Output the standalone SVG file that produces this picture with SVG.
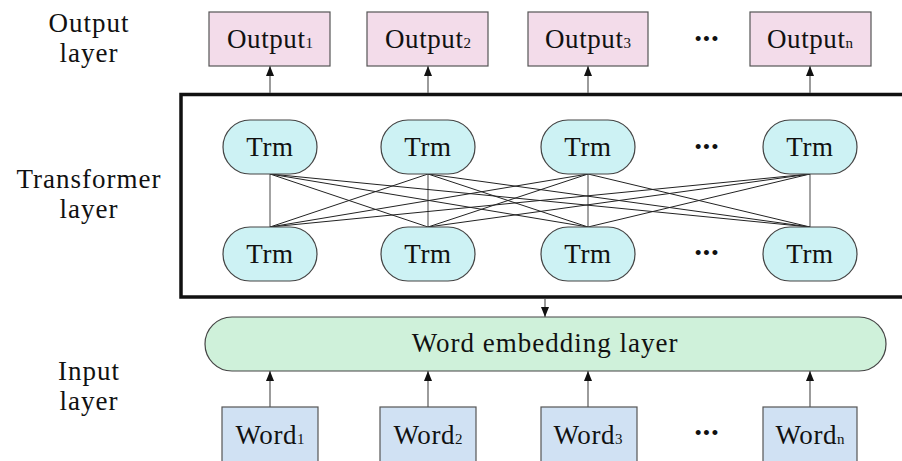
<svg xmlns="http://www.w3.org/2000/svg" width="902" height="461" viewBox="0 0 902 461" font-family="'Liberation Serif', 'Times New Roman', 'DejaVu Serif', serif">
<style>
text{font-family:'Liberation Serif','Times New Roman','DejaVu Serif',serif;fill:#111;text-anchor:middle}
.lbl{font-size:27px;letter-spacing:1px}
.t{font-size:27px;letter-spacing:0.6px}
.sub{font-size:15px;letter-spacing:0}
.dots{font-size:21px;letter-spacing:1px}
.out{fill:#f3dcea;stroke:#555;stroke-width:1.2}
.trm{fill:#cdf2f4;stroke:#444;stroke-width:1.2}
.emb{fill:#cff1da;stroke:#444;stroke-width:1.2}
.word{fill:#d0e1f3;stroke:#555;stroke-width:1.2}
.arr{stroke:#666;stroke-width:1.3;fill:none;marker-end:url(#ah)}
.v{stroke:#666;stroke-width:1.2}
.x{stroke:#222;stroke-width:1}
</style>
<defs>
<marker id="ah" markerWidth="10" markerHeight="8" refX="10" refY="4" orient="auto" markerUnits="userSpaceOnUse" viewBox="0 0 10 8">
<path d="M0,0 L10,4 L0,8 Z" fill="#111"/>
</marker>
</defs>
<rect width="902" height="461" fill="#fff"/>

<g id="labels">
<text class="lbl" x="89" y="32">Output</text>
<text class="lbl" x="89" y="62">layer</text>
<text class="lbl" x="89" y="188">Transformer</text>
<text class="lbl" x="89" y="218">layer</text>
<text class="lbl" x="89" y="380">Input</text>
<text class="lbl" x="89" y="410">layer</text>
</g>

<g id="transformer-box">
<rect x="181" y="94.5" width="730" height="202.5" fill="none" stroke="#111" stroke-width="3.5"/>
</g>

<g id="connectors">
<line class="arr" x1="270" y1="93" x2="270" y2="66"/>
<line class="arr" x1="428" y1="93" x2="428" y2="66"/>
<line class="arr" x1="588" y1="93" x2="588" y2="66"/>
<line class="arr" x1="810" y1="93" x2="810" y2="66"/>
<line class="arr" x1="545" y1="299" x2="545" y2="317"/>
<line class="arr" x1="270" y1="407" x2="270" y2="371"/>
<line class="arr" x1="428" y1="407" x2="428" y2="371"/>
<line class="arr" x1="588" y1="407" x2="588" y2="371"/>
<line class="arr" x1="810" y1="407" x2="810" y2="371"/>
<line class="v" x1="270" y1="174" x2="270" y2="227"/>
<line class="v" x1="428" y1="174" x2="428" y2="227"/>
<line class="v" x1="588" y1="174" x2="588" y2="227"/>
<line class="v" x1="810" y1="174" x2="810" y2="227"/>
<line class="x" x1="270" y1="174" x2="428" y2="227"/>
<line class="x" x1="270" y1="174" x2="588" y2="227"/>
<line class="x" x1="270" y1="174" x2="810" y2="227"/>
<line class="x" x1="428" y1="174" x2="270" y2="227"/>
<line class="x" x1="428" y1="174" x2="588" y2="227"/>
<line class="x" x1="428" y1="174" x2="810" y2="227"/>
<line class="x" x1="588" y1="174" x2="270" y2="227"/>
<line class="x" x1="588" y1="174" x2="428" y2="227"/>
<line class="x" x1="588" y1="174" x2="810" y2="227"/>
<line class="x" x1="810" y1="174" x2="270" y2="227"/>
<line class="x" x1="810" y1="174" x2="428" y2="227"/>
<line class="x" x1="810" y1="174" x2="588" y2="227"/>
</g>

<g id="output1"><rect class="out" x="209" y="12" width="121" height="54"/><text class="t" x="270" y="48">Output<tspan class="sub">1</tspan></text></g>
<g id="output2"><rect class="out" x="367" y="12" width="121" height="54"/><text class="t" x="428" y="48">Output<tspan class="sub">2</tspan></text></g>
<g id="output3"><rect class="out" x="528" y="12" width="120" height="54"/><text class="t" x="588" y="48">Output<tspan class="sub">3</tspan></text></g>
<g id="output-dots"><text class="dots" x="707" y="46">•••</text></g>
<g id="outputn"><rect class="out" x="750" y="12" width="121" height="54"/><text class="t" x="810" y="48">Output<tspan class="sub">n</tspan></text></g>

<g id="trm-top1"><rect class="trm" x="223" y="120" width="94" height="54" rx="27"/><text class="t" x="270" y="156">Trm</text></g>
<g id="trm-top2"><rect class="trm" x="381" y="120" width="94" height="54" rx="27"/><text class="t" x="428" y="156">Trm</text></g>
<g id="trm-top3"><rect class="trm" x="541" y="120" width="94" height="54" rx="27"/><text class="t" x="588" y="156">Trm</text></g>
<g id="trm-top-dots"><text class="dots" x="707" y="154">•••</text></g>
<g id="trm-topn"><rect class="trm" x="763" y="120" width="94" height="54" rx="27"/><text class="t" x="810" y="156">Trm</text></g>

<g id="trm-bot1"><rect class="trm" x="223" y="227" width="94" height="54" rx="27"/><text class="t" x="270" y="263">Trm</text></g>
<g id="trm-bot2"><rect class="trm" x="381" y="227" width="94" height="54" rx="27"/><text class="t" x="428" y="263">Trm</text></g>
<g id="trm-bot3"><rect class="trm" x="541" y="227" width="94" height="54" rx="27"/><text class="t" x="588" y="263">Trm</text></g>
<g id="trm-bot-dots"><text class="dots" x="707" y="260">•••</text></g>
<g id="trm-botn"><rect class="trm" x="763" y="227" width="94" height="54" rx="27"/><text class="t" x="810" y="263">Trm</text></g>

<g id="embedding"><rect class="emb" x="205" y="317" width="681" height="54" rx="27"/><text class="lbl" x="545" y="352">Word embedding layer</text></g>

<g id="word1"><rect class="word" x="222" y="407" width="96" height="58"/><text class="t" x="270" y="444">Word<tspan class="sub">1</tspan></text></g>
<g id="word2"><rect class="word" x="380" y="407" width="96" height="58"/><text class="t" x="428" y="444">Word<tspan class="sub">2</tspan></text></g>
<g id="word3"><rect class="word" x="541" y="407" width="96" height="58"/><text class="t" x="588" y="444">Word<tspan class="sub">3</tspan></text></g>
<g id="word-dots"><text class="dots" x="707" y="440">•••</text></g>
<g id="wordn"><rect class="word" x="763" y="407" width="94" height="58"/><text class="t" x="810" y="444">Word<tspan class="sub">n</tspan></text></g>
</svg>
